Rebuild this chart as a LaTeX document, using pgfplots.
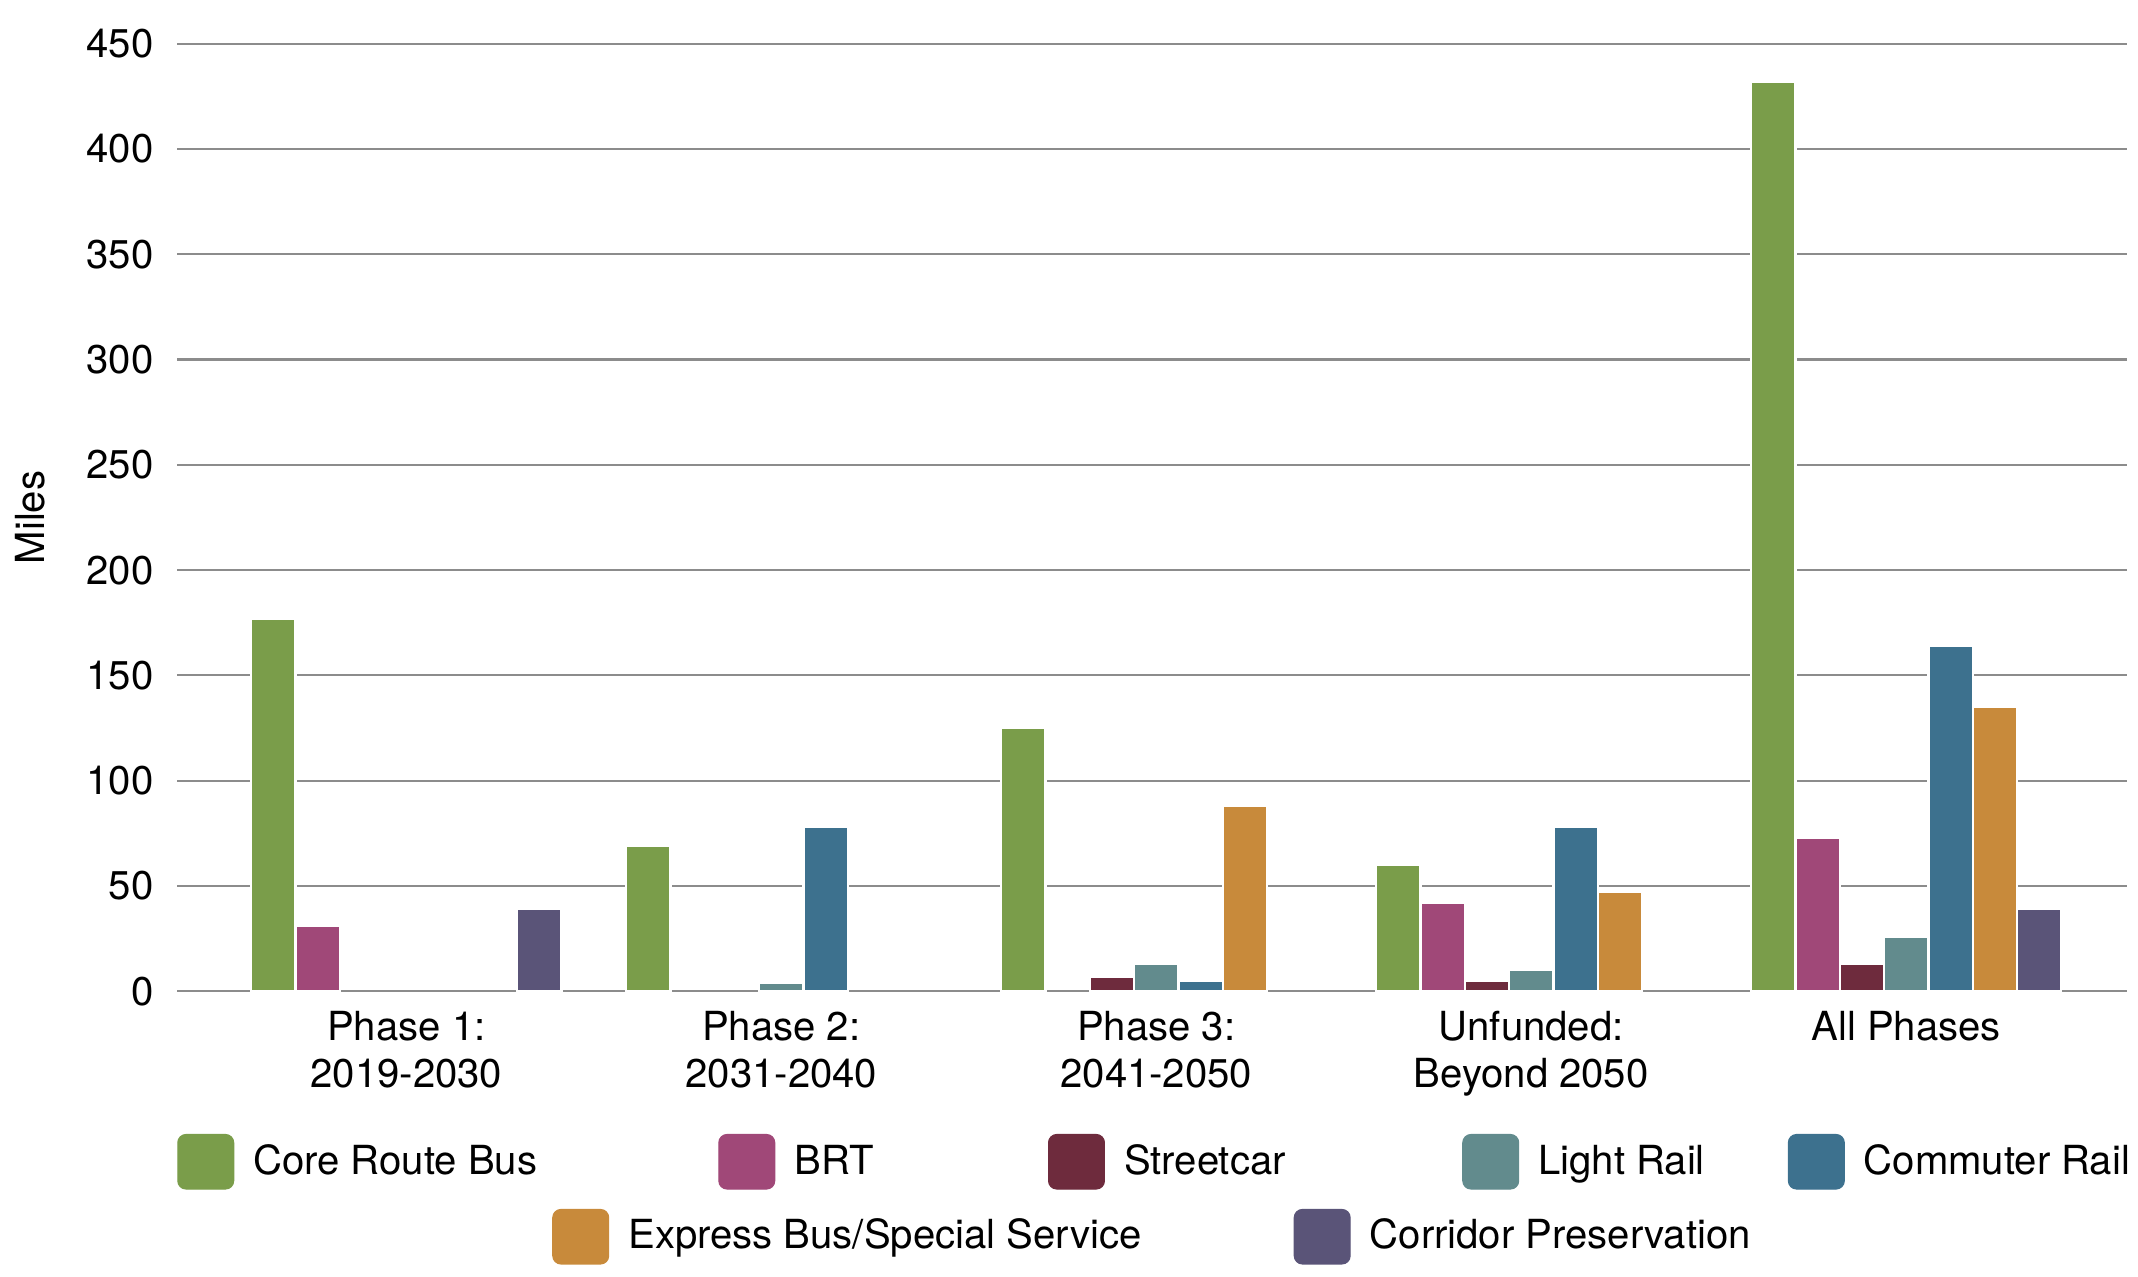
\documentclass[border=0pt]{standalone}
\usepackage{fontspec}
\setmainfont{TeX Gyre Heros}
\usepackage{pgfplots}
\pgfplotsset{compat=1.18}
\definecolor{cGreen}{HTML}{7A9D4A}
\definecolor{cBRT}{HTML}{A04878}
\definecolor{cStreet}{HTML}{6E2B3D}
\definecolor{cLight}{HTML}{628B8D}
\definecolor{cCommuter}{HTML}{3D718E}
\definecolor{cExpress}{HTML}{C88A3B}
\definecolor{cCorridor}{HTML}{5A5478}
\definecolor{gridgray}{HTML}{8C8C8C}
\newcommand{\chartfont}{\fontsize{14.7}{17.5}\selectfont}
\pgfplotsset{
  swatch/.style={legend image code/.code={\fill[#1,rounded corners=3pt] (0pt,-5.5pt) rectangle (20.5pt,14.5pt);}},
  barstyle/.style={ybar, bar width=0.1182, draw=white, line width=0.8pt, forget plot},
  commonaxis/.style={
    at={(0pt,0pt)}, anchor=south west,
    scale only axis, width=715pt, height=347.5pt,
    xmin=-0.611, xmax=4.589, ymin=0, ymax=450,
  },
  legstyle/.style={legend style={draw=none, fill=none, inner sep=0pt, outer sep=0pt,
    font=\chartfont, column sep=0pt, nodes={inner sep=0pt}, cells={anchor=base west}}},
}
\begin{document}
\begin{tikzpicture}
\useasboundingbox (-65pt,-104.5pt) rectangle (719pt,363.5pt);
\begin{axis}[
  commonaxis,
  ytick={0,50,...,450},
  xtick={0,1,2,3,4},
  xticklabels={{Phase 1:\\2019-2030},{Phase 2:\\2031-2040},{Phase 3:\\2041-2050},{Unfunded:\\Beyond 2050},{All Phases}},
  axis line style={draw=none},
  major tick length=0pt,
  tick style={draw=none},
  ymajorgrids,
  major grid style={gridgray, line width=0.75pt},
  /pgf/number format/assume math mode=true,
  tick label style={font=\chartfont},
  yticklabel style={inner sep=0pt, xshift=-8.5pt},
  xticklabel style={align=center, inner sep=0pt, yshift=-7pt},
  ylabel={Miles},
  ylabel style={font=\chartfont, at={(axis description cs:-0.0755,0.5)}, anchor=center},
  legstyle,
  legend style={at={(0,-0.1799)}, anchor=west},
  legend columns=5,
]
% Core Route Bus
\addplot[barstyle, bar shift=-0.3546, fill=cGreen] coordinates {(0,177) (1,69) (2,125) (3,60) (4,432)};
% BRT
\addplot[barstyle, bar shift=-0.2364, fill=cBRT] coordinates {(0,31) (3,42) (4,73)};
% Streetcar
\addplot[barstyle, bar shift=-0.1182, fill=cStreet] coordinates {(2,7) (3,5) (4,13)};
% Light Rail
\addplot[barstyle, bar shift=0, fill=cLight] coordinates {(1,4) (2,13) (3,10) (4,26)};
% Commuter Rail
\addplot[barstyle, bar shift=0.1182, fill=cCommuter] coordinates {(1,78) (2,5) (3,78) (4,164)};
% Express Bus/Special Service
\addplot[barstyle, bar shift=0.2364, fill=cExpress] coordinates {(2,88) (3,47) (4,135)};
% Corridor Preservation
\addplot[barstyle, bar shift=0.3546, fill=cCorridor] coordinates {(0,39) (4,39)};

\addlegendimage{swatch=cGreen}
\addlegendentry{\makebox[177.5pt][l]{\hspace{7pt}Core Route Bus}}
\addlegendimage{swatch=cBRT}
\addlegendentry{\makebox[100pt][l]{\hspace{7pt}BRT}}
\addlegendimage{swatch=cStreet}
\addlegendentry{\makebox[131pt][l]{\hspace{7pt}Streetcar}}
\addlegendimage{swatch=cLight}
\addlegendentry{\makebox[98.5pt][l]{\hspace{7pt}Light Rail}}
\addlegendimage{swatch=cCommuter}
\addlegendentry{\hspace{7pt}Commuter Rail}
\end{axis}
\begin{axis}[
  commonaxis,
  hide axis,
  legstyle,
  legend style={at={(0.1923,-0.259)}, anchor=west},
  legend columns=2,
]
\addlegendimage{swatch=cExpress}
\addlegendentry{\makebox[251pt][l]{\hspace{7pt}Express Bus/Special Service}}
\addlegendimage{swatch=cCorridor}
\addlegendentry{\hspace{7pt}Corridor Preservation}
\end{axis}
\end{tikzpicture}
\end{document}
